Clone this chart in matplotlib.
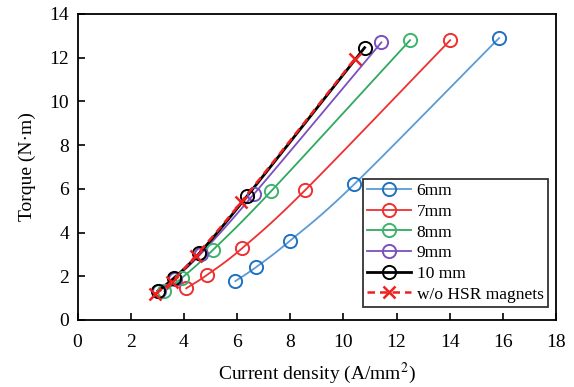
import numpy as np
import matplotlib
matplotlib.use("Agg")
import matplotlib.pyplot as plt
from matplotlib.lines import Line2D

plt.rcParams['font.family'] = ['Liberation Serif', 'DejaVu Serif']
plt.rcParams['mathtext.fontset'] = 'stix'

labels = ['6mm', '7mm', '8mm', '9mm', '10 mm', 'w/o HSR magnets']
x6 = [5.94, 6.72, 8.00, 10.40, 15.86]
y6 = [1.78, 2.42, 3.63, 6.20, 12.90]
x7 = [4.09, 4.87, 6.19, 8.57, 14.02]
y7 = [1.45, 2.06, 3.28, 5.95, 12.80]
x8 = [3.27, 3.94, 5.09, 7.28, 12.51]
y8 = [1.31, 1.94, 3.20, 5.89, 12.80]
x9 = [3.07, 3.65, 4.64, 6.63, 11.43]
y9 = [1.33, 1.89, 3.03, 5.75, 12.70]
x10 = [3.03, 3.62, 4.58, 6.38, 10.80]
y10 = [1.34, 1.91, 3.05, 5.67, 12.46]
xw = [2.92, 3.54, 4.45, 6.16, 10.43]
yw = [1.19, 1.75, 2.94, 5.40, 11.94]

line_colors = ['#5B9BD5', '#EE3030', '#2EAA5E', '#7A4FBF', '#000000', '#EE2020']
marker_colors = ['#1F72C0', '#EE3030', '#3CB46E', '#7A4FBF', '#000000', '#EE2020']


def smooth(xs, ys, n=30):
    # Catmull-Rom spline through the data points (drawing only)
    xs = np.asarray(xs, float); ys = np.asarray(ys, float)
    sx, sy = 18.0, 14.0 * 306 / 478.5
    P = np.column_stack([xs / sx, ys / sy])
    P = np.vstack([2 * P[0] - P[1], P, 2 * P[-1] - P[-2]])
    out = []
    for i in range(1, len(P) - 2):
        p0, p1, p2, p3 = P[i - 1], P[i], P[i + 1], P[i + 2]
        t = np.linspace(0, 1, n)[:, None]
        seg = 0.5 * ((2 * p1) + (-p0 + p2) * t + (2 * p0 - 5 * p1 + 4 * p2 - p3) * t ** 2
                     + (-p0 + 3 * p1 - 3 * p2 + p3) * t ** 3)
        out.append(seg if i == 1 else seg[1:])
    out = np.vstack(out)
    return out[:, 0] * sx, out[:, 1] * sy


fig = plt.figure(figsize=(5.74, 3.87), dpi=100)
ax = fig.add_axes([77.5 / 574, 1 - 320 / 387, (556 - 77.5) / 574, (320 - 14) / 387])

series = [(x6, y6), (x7, y7), (x8, y8), (x9, y9), (x10, y10)]
handles = []
for i, (xs, ys) in enumerate(series):
    lw = 2.0 if i == 4 else 1.3
    sxs, sys_ = smooth(xs, ys)
    ax.plot(sxs, sys_, color=line_colors[i], lw=lw, zorder=2 + i * 0.1)
    ax.plot(xs, ys, ls='none', marker='o', ms=9.5, mfc='none', mec=marker_colors[i],
            mew=1.4, zorder=3 + i * 0.1)
    handles.append(Line2D([], [], color=line_colors[i], lw=lw,
                          marker='o', ms=9.5, mfc='none', mec=marker_colors[i], mew=1.4))

sxs, sys_ = smooth(xw, yw)
ax.plot(sxs, sys_, color=line_colors[5], lw=1.8, ls=(0, (3, 2)), zorder=4)
ax.plot(xw, yw, ls='none', marker='x', ms=9, mec=marker_colors[5], mew=1.8, zorder=4)
handles.append(Line2D([], [], color=line_colors[5], lw=1.8, ls=(0, (3, 2)), marker='x',
                      ms=9, mec=marker_colors[5], mew=1.8))

ax.set_xlim(0, 18)
ax.set_ylim(0, 14)
ax.set_xticks(range(0, 19, 2))
ax.set_yticks(range(0, 15, 2))
ax.tick_params(direction='in', length=5, width=1.2, labelsize=14, pad=6,
               top=False, right=False)
ax.tick_params(axis='x', pad=10)
for s in ax.spines.values():
    s.set_linewidth(1.3)

ax.set_xlabel('Current density (A/mm$^2$)', fontsize=14, labelpad=7)
ax.set_ylabel('Torque (N·m)', fontsize=14, labelpad=10)

leg = ax.legend(handles, labels, loc='lower right', bbox_to_anchor=(0.983, 0.043),
                borderaxespad=0, fontsize=12.5, frameon=True, fancybox=False,
                handlelength=2.5, handletextpad=0.35, labelspacing=0.26,
                borderpad=0.25)
leg.get_frame().set_edgecolor('black')
leg.get_frame().set_linewidth(1.3)

fig.savefig('out.png', dpi=100)
